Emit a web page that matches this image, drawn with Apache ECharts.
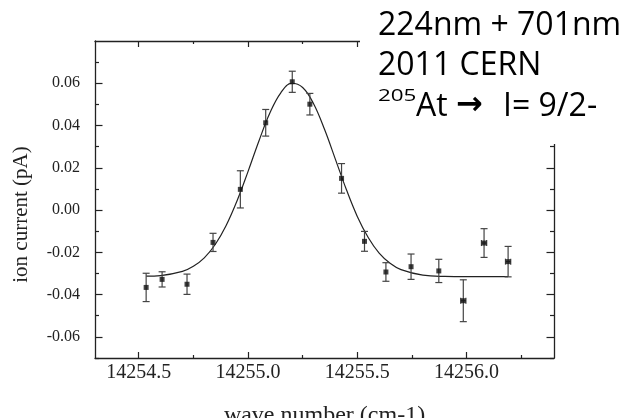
<!DOCTYPE html>
<html><head><meta charset="utf-8">
<script src="https://cdn.jsdelivr.net/npm/echarts@6/dist/echarts.min.js"></script>
<style>html,body{margin:0;padding:0;background:#fff}#c{width:630px;height:418px}</style>
</head><body><div id="c"></div>
<script>
// measured data points
const waveNumber = [14254.534, 14254.607, 14254.721, 14254.84, 14254.965, 14255.081, 14255.2025, 14255.283, 14255.428, 14255.533, 14255.631, 14255.746, 14255.873, 14255.985, 14256.08, 14256.19];
const ionCurrent = [-0.0366, -0.0328, -0.0351, -0.0153, 0.0098, 0.0413, 0.0607, 0.0501, 0.0150, -0.0148, -0.0293, -0.0268, -0.0288, -0.0429, -0.0156, -0.0244];
const ionError   = [0.0067, 0.0036, 0.0048, 0.0043, 0.0088, 0.0063, 0.0050, 0.0051, 0.0070, 0.0047, 0.0044, 0.0060, 0.0055, 0.0099, 0.0068, 0.0072];
const waveError  = [0, 0, 0, 0, 0, 0, 0, 0, 0, 0, 0, 0, 0, 0.012, 0.012, 0.012];
// fitted curve
const fitWave = [14254.534, 14254.6, 14254.7, 14254.75, 14254.8, 14254.85, 14254.9, 14254.95, 14255.0, 14255.05, 14255.1, 14255.15, 14255.2, 14255.25, 14255.3, 14255.35, 14255.4, 14255.45, 14255.5, 14255.55, 14255.6, 14255.65, 14255.7, 14255.8, 14255.9, 14256.0, 14256.1, 14256.19];
const fitCurrent = [-0.0313, -0.0310, -0.0290, -0.0266, -0.0226, -0.0163, -0.0073, 0.0044, 0.0182, 0.0327, 0.0459, 0.0555, 0.0600, 0.0580, 0.0503, 0.0382, 0.0240, 0.0097, -0.0030, -0.0130, -0.0204, -0.0252, -0.0282, -0.0308, -0.0314, -0.0315, -0.0315, -0.0315];
// ticks
const xMajorTicks = [14254.5, 14255.0, 14255.5, 14256.0];
const xMinorTicks = [14254.75, 14255.25, 14255.75, 14256.25];
const yMajorTicks = [-0.06, -0.04, -0.02, 0, 0.02, 0.04, 0.06];
const yMinorTicks = [-0.07, -0.05, -0.03, -0.01, 0.01, 0.03, 0.05, 0.07];
const xTitle = 'wave number (cm-1)';
const yTitle = 'ion current (pA)';
const noteLine1 = '224nm + 701nm';
const noteLine2 = '2011 CERN';
const noteIso = '205';
const noteEl = 'At';
const noteArrow = '\u2192';
const noteSpin = 'I= 9/2-';

const X_MIN = 14254.3, X_MAX = 14256.4, Y_MIN = -0.07, Y_MAX = 0.08;
const serif = '"Liberation Serif", "Times New Roman", serif';
const axCol = '#222';

function xAx(pos, ticks, len, main) {
  return {
    type: 'value', position: pos, min: X_MIN, max: X_MAX,
    axisLine: { show: main, onZero: false, lineStyle: { color: axCol, width: 1.3 } },
    axisTick: { show: true, inside: true, length: len, customValues: ticks, lineStyle: { color: axCol, width: 1.2 } },
    axisLabel: (main && pos === 'bottom') ? { show: true, customValues: ticks, formatter: v => v.toFixed(1), fontFamily: serif, fontSize: 20, color: '#222', margin: 5 } : { show: false },
    splitLine: { show: false },
    name: (main && pos === 'bottom') ? xTitle : '',
    nameLocation: 'middle', nameGap: 46,
    nameTextStyle: { fontFamily: serif, fontSize: 24, color: '#222' }
  };
}
function yAx(pos, ticks, len, main) {
  return {
    type: 'value', position: pos, min: Y_MIN, max: Y_MAX,
    axisLine: { show: main, onZero: false, lineStyle: { color: axCol, width: 1.3 } },
    axisTick: { show: true, inside: true, length: len, customValues: ticks, lineStyle: { color: axCol, width: 1.2 } },
    axisLabel: (main && pos === 'left') ? { show: true, customValues: ticks, formatter: v => v.toFixed(2), fontFamily: serif, fontSize: 16, color: '#222', margin: 15 } : { show: false },
    splitLine: { show: false },
    name: (main && pos === 'left') ? yTitle : '',
    nameLocation: 'middle', nameGap: 63, nameRotate: 90,
    nameTextStyle: { fontFamily: serif, fontSize: 21, color: '#222', padding: [0, 30, 0, 0] }
  };
}

const chart = echarts.init(document.getElementById('c'), null, { renderer: 'canvas' });
chart.setOption({
  animation: false,
  backgroundColor: '#fff',
  grid: { left: 95, right: 76, top: 41, bottom: 60, containLabel: false, outerBoundsMode: 'none' },
  xAxis: [xAx('bottom', xMajorTicks, 6, true), xAx('bottom', xMinorTicks, 3, false), xAx('top', xMajorTicks, 6, true), xAx('top', xMinorTicks, 3, false)],
  yAxis: [yAx('left', yMajorTicks, 7.5, true), yAx('left', yMinorTicks, 4, false), yAx('right', yMajorTicks, 7.5, true), yAx('right', yMinorTicks, 4, false)],
  series: [
    {
      type: 'line', xAxisIndex: 0, yAxisIndex: 0,
      data: fitWave.map((w, i) => [w, fitCurrent[i]]),
      smooth: 0.4, showSymbol: false, symbol: 'none',
      lineStyle: { color: '#222', width: 1.2 }, z: 2
    },
    {
      type: 'custom', xAxisIndex: 0, yAxisIndex: 0,
      data: waveNumber.map((w, i) => [w, ionCurrent[i], ionError[i], waveError[i]]),
      encode: { x: 0, y: 1 },
      renderItem: (params, api) => {
        const x = api.value(0), y = api.value(1), ye = api.value(2), xe = api.value(3);
        const t = api.coord([x, y + ye]), b = api.coord([x, y - ye]);
        const cap = 3.5;
        const st = { stroke: '#444', lineWidth: 1.2, fill: null };
        const ch = [
          { type: 'line', shape: { x1: t[0], y1: t[1], x2: b[0], y2: b[1] }, style: st },
          { type: 'line', shape: { x1: t[0] - cap, y1: t[1], x2: t[0] + cap, y2: t[1] }, style: st },
          { type: 'line', shape: { x1: b[0] - cap, y1: b[1], x2: b[0] + cap, y2: b[1] }, style: st }
        ];
        if (xe > 0) {
          const l = api.coord([x - xe, y]), r = api.coord([x + xe, y]);
          ch.push({ type: 'line', shape: { x1: l[0], y1: l[1], x2: r[0], y2: r[1] }, style: st });
          ch.push({ type: 'line', shape: { x1: l[0], y1: l[1] - 3, x2: l[0], y2: l[1] + 3 }, style: st });
          ch.push({ type: 'line', shape: { x1: r[0], y1: r[1] - 3, x2: r[0], y2: r[1] + 3 }, style: st });
        }
        return { type: 'group', children: ch };
      },
      z: 3
    },
    {
      type: 'scatter', xAxisIndex: 0, yAxisIndex: 0,
      data: waveNumber.map((w, i) => [w, ionCurrent[i]]),
      symbol: 'rect', symbolSize: 5,
      itemStyle: { color: '#111' }, z: 4
    }
  ],
  graphic: [
    { type: 'rect', shape: { x: 360, y: 0, width: 270, height: 144 }, style: { fill: '#fff' }, z: 100 },
    { type: 'text', x: 378, y: 26, z: 101, style: { text: noteLine1, fill: '#000', font: '32px "Open Sans"', textVerticalAlign: 'middle' } },
    { type: 'text', x: 378, y: 66, z: 101, style: { text: noteLine2, fill: '#000', font: '32px "Open Sans"', textVerticalAlign: 'middle' } },
    { type: 'text', x: 378, y: 96, scaleX: 1.4, z: 101, style: { text: noteIso, fill: '#000', font: '16px "Open Sans"', textVerticalAlign: 'middle' } },
    { type: 'text', x: 416, y: 107, z: 101, style: { text: noteEl, fill: '#000', font: '32px "Open Sans"', textVerticalAlign: 'middle' } },
    { type: 'text', x: 456, y: 106, z: 101, style: { text: noteArrow, fill: '#000', font: 'bold 32px "DejaVu Sans"', textVerticalAlign: 'middle' } },
    { type: 'text', x: 503, y: 107, z: 101, style: { text: noteSpin, fill: '#000', font: '32px "Open Sans"', textVerticalAlign: 'middle' } }
  ]
});
</script>
</body></html>
